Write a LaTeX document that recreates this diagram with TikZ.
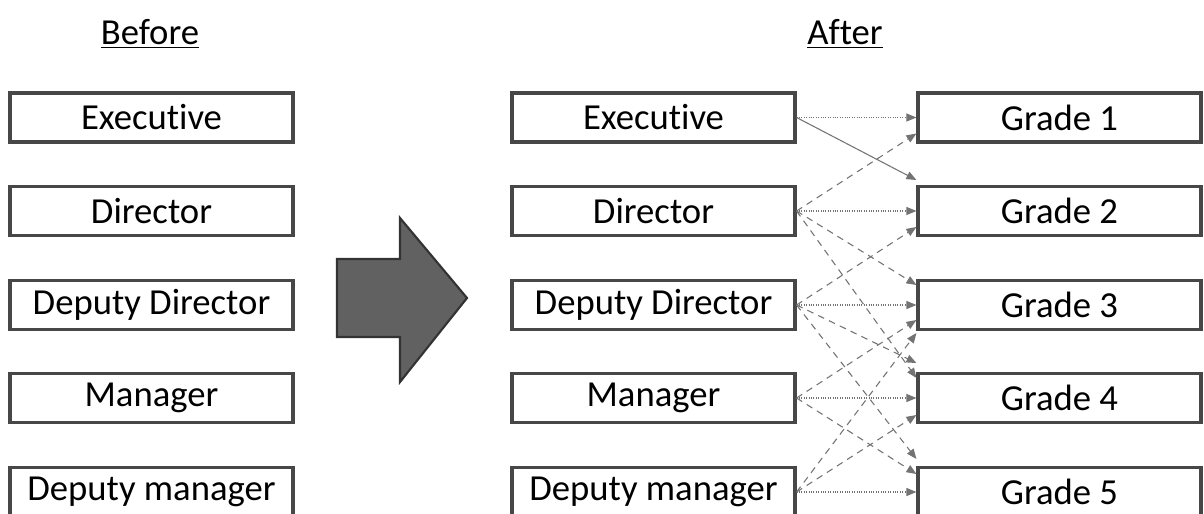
\documentclass[tikz,border=0pt]{standalone}
\usepackage{fontspec}
\setmainfont[Ligatures=NoCommon]{Carlito}
\usetikzlibrary{arrows.meta}
\begin{document}
\begin{tikzpicture}[x=0.75pt,y=-0.75pt,
  rolebox/.style={draw=black!72, line width=2.6pt, fill=white,
    minimum width=212pt, minimum height=36.5pt, inner sep=0pt,
    font=\fontsize{27.5}{32}\selectfont},
  title/.style={anchor=base, inner sep=0pt, font=\fontsize{27.5}{32}\selectfont},
  link/.style={draw=black!55, line width=0.8pt,
    -{Triangle[length=7.5pt,width=6pt]}},
  dotlink/.style={link, densely dotted},
  dashlink/.style={link, dash pattern=on 5pt off 4pt},
  bigarrow/.style={fill=black!62, draw=black!80, line width=1.6pt, line join=miter}
]
\useasboundingbox (0,0) rectangle (1204,514);
\clip (0,0) rectangle (1204,514);

% column headings
\node[title] (before) at (150,45) {\underline{Before}};
\node[title] (after)  at (845,45) {\underline{After}};

% roles before the change
\node[rolebox] (b1) at (151.5,117.5) {Executive};
\node[rolebox] (b2) at (151.5,211)   {Director};
\node[rolebox] (b3) at (151.5,305)   {Deputy Director};
\node[rolebox] (b4) at (151.5,398)   {Manager};
\node[rolebox] (b5) at (151.5,492)   {Deputy manager};

% transition arrow
\draw[bigarrow] (337,259) -- (400,259) -- (400,218) -- (467,298)
  -- (400,382) -- (400,337) -- (337,337) -- cycle;

% roles after the change
\node[rolebox] (a1) at (653.5,117.5) {Executive};
\node[rolebox] (a2) at (653.5,211)   {Director};
\node[rolebox] (a3) at (653.5,305)   {Deputy Director};
\node[rolebox] (a4) at (653.5,398)   {Manager};
\node[rolebox] (a5) at (653.5,492)   {Deputy manager};

% grades
\node[rolebox] (g1) at (1059.5,117.5) {Grade 1};
\node[rolebox] (g2) at (1059.5,211)   {Grade 2};
\node[rolebox] (g3) at (1059.5,305)   {Grade 3};
\node[rolebox] (g4) at (1059.5,398)   {Grade 4};
\node[rolebox] (g5) at (1059.5,492)   {Grade 5};

% mapping of roles to grades
\draw[dotlink]  (a1.east) -- (g1.west);
\draw[link]     (a1.east) -- ([yshift=23.25pt]g2.west);

\draw[dashlink] (a2.east) -- ([yshift=-12pt]g1.west);
\draw[dotlink]  (a2.east) -- (g2.west);
\draw[dashlink] (a2.east) -- ([yshift=15pt]g3.west);
\draw[dashlink] (a2.east) -- ([yshift=15pt]g4.west);

\draw[dashlink] (a3.east) -- ([yshift=-12pt]g2.west);
\draw[dotlink]  (a3.east) -- (g3.west);
\draw[dashlink] (a3.east) -- ([yshift=26.25pt]g4.west);
\draw[dashlink] (a3.east) -- ([yshift=24.75pt]g5.west);

\draw[dashlink] (a4.east) -- ([yshift=-11.25pt]g3.west);
\draw[dotlink]  (a4.east) -- (g4.west);
\draw[dashlink] (a4.east) -- ([yshift=13.5pt]g5.west);

\draw[dashlink] (a5.east) -- ([yshift=-21pt]g3.west);
\draw[dashlink] (a5.east) -- ([yshift=-12.75pt]g4.west);
\draw[dotlink]  (a5.east) -- (g5.west);
\end{tikzpicture}
\end{document}
